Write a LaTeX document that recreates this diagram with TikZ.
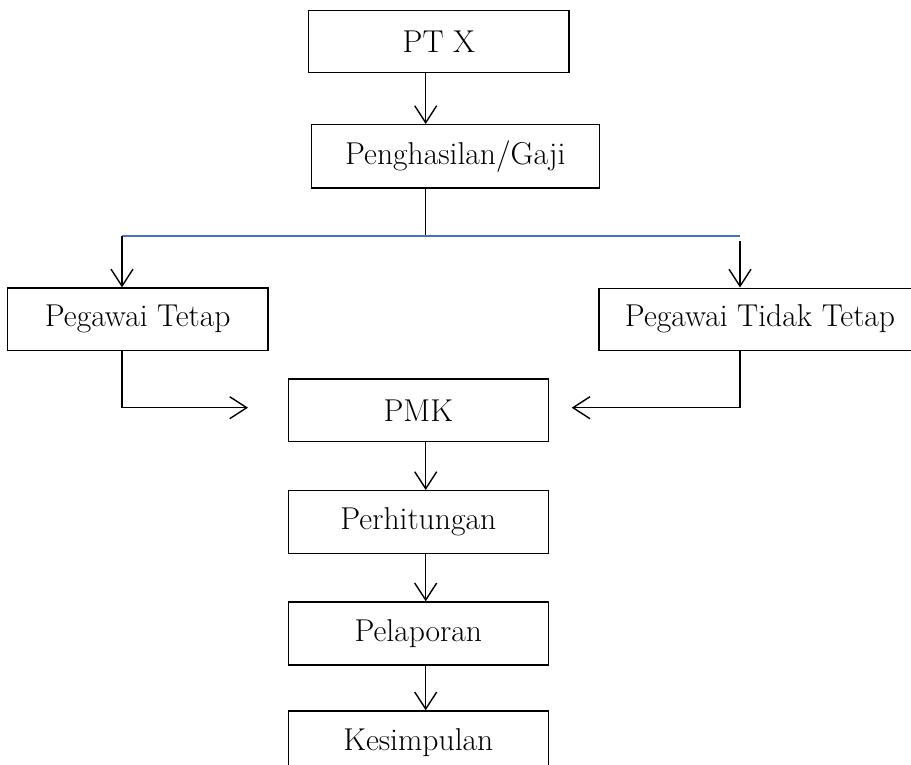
\documentclass[tikz,border=0pt]{standalone}
\usetikzlibrary{arrows.meta}
\definecolor{wordblue}{RGB}{68,114,196}
\begin{document}
\begin{tikzpicture}[x=0.5pt,y=-0.5pt,
  box/.style={draw=black,line width=0.7pt,inner sep=0pt,font=\fontsize{15.8}{18}\selectfont},
  conn/.style={line width=0.7pt,-{Straight Barb[length=8.5pt,width=11pt,line width=0.7pt]}},
  plain/.style={line width=0.7pt}]
\clip (0,0) rectangle (911,765);
\node[box,minimum width=130.15pt,minimum height=31pt] (ptx) at (438.9,41.7) {PT X};
\node[box,minimum width=144pt,minimum height=31.7pt] (gaji) at (455.3,156.4) {Penghasilan/Gaji};
\node[box,minimum width=130.35pt,minimum height=31.3pt] (tetap) at (137.7,319.4) {Pegawai Tetap};
\node[box,minimum width=161pt,minimum height=31pt] (tidak) at (760,319.2) {Pegawai Tidak Tetap};
\node[box,minimum width=130pt,minimum height=31.3pt] (pmk) at (418.3,410.4) {PMK};
\node[box,minimum width=130pt,minimum height=31.3pt] (hitung) at (418.3,522) {Perhitungan};
\node[box,minimum width=130pt,minimum height=31.5pt] (lapor) at (418.3,633.5) {Pelaporan};
\node[box,minimum width=130pt,minimum height=31.5pt] (simpul) at (418.3,742.5) {Kesimpulan};
\coordinate (spine) at (425.7,0);
\coordinate (bl) at (122,236);
\coordinate (br) at (740,236);
\coordinate (brs) at (740,241);
\coordinate (elbL) at (122,407.7);
\coordinate (elbR) at (740,407.7);
\coordinate (tipL) at (248,407.7);
\coordinate (tipR) at (571.7,407.7);
\draw[conn] (ptx.south -| spine) -- (gaji.north -| spine);
\draw[plain] (gaji.south -| spine) -- (spine |- bl);
\draw[wordblue,line width=0.6pt] (bl) -- (br);
\draw[conn] (bl) -- (tetap.north -| bl);
\draw[conn] (brs) -- (tidak.north -| brs);
\draw[conn] (tetap.south -| bl) -- (elbL) -- (tipL);
\draw[conn] (tidak.south -| br) -- (elbR) -- (tipR);
\draw[conn] (pmk.south -| spine) -- (hitung.north -| spine);
\draw[conn] (hitung.south -| spine) -- (lapor.north -| spine);
\draw[conn] (lapor.south -| spine) -- (simpul.north -| spine);
\end{tikzpicture}
\end{document}
